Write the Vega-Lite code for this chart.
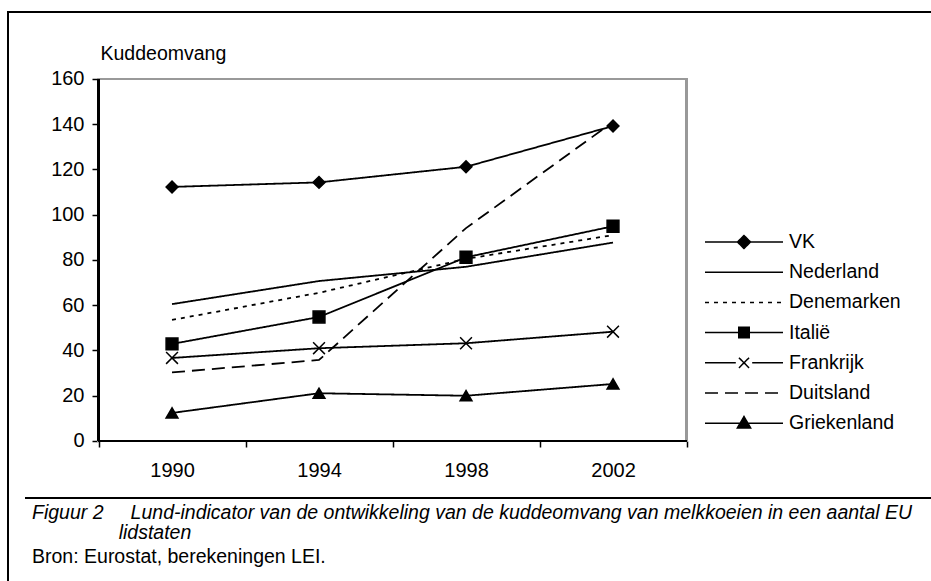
{
  "$schema": "https://vega.github.io/schema/vega-lite/v6.json",
  "width": 925,
  "height": 572,
  "padding": {"left": 8, "top": 12, "right": 0, "bottom": 0},
  "autosize": {"type": "none"},
  "background": "white",
  "config": {
    "font": "Liberation Sans",
    "view": {"stroke": "black", "strokeWidth": 2, "fill": "white"}
  },
  "title": {
    "text": [
      "Figuur 2\u00a0\u00a0\u00a0\u00a0\u00a0Lund-indicator van de ontwikkeling van de kuddeomvang van melkkoeien in een aantal EU",
      "\u200b\u00a0\u00a0\u00a0\u00a0\u00a0\u00a0\u00a0\u00a0\u00a0\u00a0\u00a0\u00a0\u00a0\u00a0\u00a0\u00a0lidstaten"
    ],
    "subtitle": "Bron: Eurostat, berekeningen LEI.",
    "orient": "bottom",
    "anchor": "start",
    "frame": "group",
    "dx": 24,
    "dy": -84,
    "font": "Liberation Sans",
    "fontStyle": "italic",
    "fontWeight": "normal",
    "fontSize": 19.5,
    "lineHeight": 20,
    "color": "black",
    "subtitleFont": "Liberation Sans",
    "subtitleFontSize": 19.5,
    "subtitleColor": "black",
    "subtitleLineHeight": 20,
    "subtitlePadding": 4
  },
  "data": {
    "values": [
      {"country": "VK", "year": 1990, "value": 112.3},
      {"country": "VK", "year": 1994, "value": 114.3},
      {"country": "VK", "year": 1998, "value": 121.2},
      {"country": "VK", "year": 2002, "value": 139.2},
      {"country": "Nederland", "year": 1990, "value": 60.5},
      {"country": "Nederland", "year": 1994, "value": 70.7},
      {"country": "Nederland", "year": 1998, "value": 77},
      {"country": "Nederland", "year": 2002, "value": 87.7},
      {"country": "Denemarken", "year": 1990, "value": 53.5},
      {"country": "Denemarken", "year": 1994, "value": 65.5},
      {"country": "Denemarken", "year": 1998, "value": 80.5},
      {"country": "Denemarken", "year": 2002, "value": 91},
      {"country": "Italië", "year": 1990, "value": 42.9},
      {"country": "Italië", "year": 1994, "value": 54.8},
      {"country": "Italië", "year": 1998, "value": 81.2},
      {"country": "Italië", "year": 2002, "value": 94.9},
      {"country": "Frankrijk", "year": 1990, "value": 36.7},
      {"country": "Frankrijk", "year": 1994, "value": 41},
      {"country": "Frankrijk", "year": 1998, "value": 43.2},
      {"country": "Frankrijk", "year": 2002, "value": 48.3},
      {"country": "Duitsland", "year": 1990, "value": 30.3},
      {"country": "Duitsland", "year": 1994, "value": 35.8},
      {"country": "Duitsland", "year": 1998, "value": 94.1},
      {"country": "Duitsland", "year": 2002, "value": 141},
      {"country": "Griekenland", "year": 1990, "value": 12.4},
      {"country": "Griekenland", "year": 1994, "value": 21.1},
      {"country": "Griekenland", "year": 1998, "value": 20},
      {"country": "Griekenland", "year": 2002, "value": 25.2}
    ]
  },
  "encoding": {
    "x": {
      "field": "year",
      "type": "quantitative",
      "scale": {"domain": [1985.537, 2010.707], "nice": false, "zero": false},
      "axis": {
        "orient": "bottom",
        "offset": -143,
        "values": [1988, 1990, 1992, 1994, 1996, 1998, 2000, 2002, 2004],
        "format": "d",
        "labelExpr": "(datum.value - 1990) % 4 === 0 ? datum.label : ''",
        "tickOpacity": {"condition": {"test": "(datum.value - 1988) % 4 === 0", "value": 1}, "value": 0},
        "domain": false,
        "grid": false,
        "tickSize": 6,
        "tickWidth": 1.5,
        "tickColor": "black",
        "labelFontSize": 20,
        "labelColor": "black",
        "labelPadding": 13,
        "labelFlush": false,
        "labelOverlap": false,
        "title": null
      }
    },
    "y": {
      "field": "value",
      "type": "quantitative",
      "scale": {"domain": [-63.21, 189.61], "nice": false, "zero": false},
      "axis": {
        "orient": "left",
        "offset": -90,
        "values": [0, 20, 40, 60, 80, 100, 120, 140, 160],
        "domain": false,
        "grid": false,
        "tickSize": 6,
        "tickWidth": 1.5,
        "tickColor": "black",
        "labelFontSize": 20,
        "labelColor": "black",
        "labelPadding": 8,
        "title": "Kuddeomvang",
        "titleAngle": 0,
        "titleAlign": "left",
        "titleBaseline": "middle",
        "titleX": 2,
        "titleY": 41,
        "titleFontSize": 19.5,
        "titleFontWeight": "normal",
        "titleColor": "black"
      }
    }
  },
  "layer": [
    {
      "mark": {"type": "rect", "fill": null, "stroke": "#999999", "strokeWidth": 2},
      "encoding": {
        "x": {"datum": 1988, "type": "quantitative"},
        "x2": {"datum": 2004},
        "y": {"datum": 0, "type": "quantitative"},
        "y2": {"datum": 160}
      }
    },
    {
      "mark": {"type": "rule", "color": "black", "strokeWidth": 1.5},
      "encoding": {
        "x": {"datum": 1988, "type": "quantitative"},
        "y": {"datum": 0, "type": "quantitative"},
        "y2": {"datum": 160}
      }
    },
    {
      "mark": {"type": "rule", "color": "black", "strokeWidth": 1.5},
      "encoding": {
        "x": {"datum": 1988, "type": "quantitative"},
        "x2": {"datum": 2004},
        "y": {"datum": 0, "type": "quantitative"}
      }
    },
    {
      "mark": {"type": "rule", "color": "black", "strokeWidth": 2, "clip": false},
      "encoding": {
        "x": {"datum": 1986, "type": "quantitative"},
        "x2": {"datum": 2011},
        "y": {"datum": -25.2, "type": "quantitative"}
      }
    },
    {
      "mark": {"type": "line", "color": "black", "strokeWidth": 1.8},
      "encoding": {
        "detail": {"field": "country", "type": "nominal"},
        "strokeDash": {
          "field": "country",
          "type": "nominal",
          "scale": {
            "domain": ["VK", "Nederland", "Denemarken", "Italië", "Frankrijk", "Duitsland", "Griekenland"],
            "range": [[1, 0], [1, 0], [4, 5], [1, 0], [1, 0], [13, 7], [1, 0]]
          },
          "legend": {
            "orient": "none",
            "legendX": 696,
            "legendY": 220,
            "title": null,
            "padding": 0,
            "symbolSize": 6084,
            "symbolOffset": 0,
            "symbolStrokeWidth": 1.5,
            "symbolStrokeColor": "black",
            "symbolFillColor": "black",
            "clipHeight": 20,
            "rowPadding": 10.2,
            "labelOffset": 5,
            "labelFont": "Liberation Sans",
            "labelFontSize": 19.5,
            "labelColor": "black",
            "labelLimit": 300,
            "encode": {
              "symbols": {
                "update": {
                  "shape": {"signal": "datum.value === 'VK' ? 'M-1,0H1M0,-0.167L0.167,0L0,0.167L-0.167,0Z' : datum.value === 'Italië' ? 'M-1,0H1M-0.135,-0.135H0.135V0.135H-0.135Z' : datum.value === 'Frankrijk' ? 'M-1,0H-0.21M0.21,0H1M-0.13,-0.13L0.13,0.13M-0.13,0.13L0.13,-0.13' : datum.value === 'Griekenland' ? 'M-1,0H1M0,-0.17L0.17,0.12L-0.17,0.12Z' : 'M-1,0H1'"},
                  "fill": {"value": "black"},
                  "stroke": {"value": "black"}
                }
              }
            }
          }
        }
      }
    },
    {
      "transform": [{"filter": "indexof(['VK','Italië','Frankrijk','Griekenland'], datum.country) >= 0"}],
      "mark": {"type": "point", "filled": true, "fill": "black", "stroke": "black", "strokeWidth": 1.5, "opacity": 1, "size": 140},
      "encoding": {
        "shape": {
          "field": "country",
          "type": "nominal",
          "scale": {
            "domain": ["VK", "Italië", "Frankrijk", "Griekenland"],
            "range": ["diamond", "square", "M-1,-1L1,1M-1,1L1,-1", "triangle-up"]
          },
          "legend": null
        }
      }
    }
  ]
}
